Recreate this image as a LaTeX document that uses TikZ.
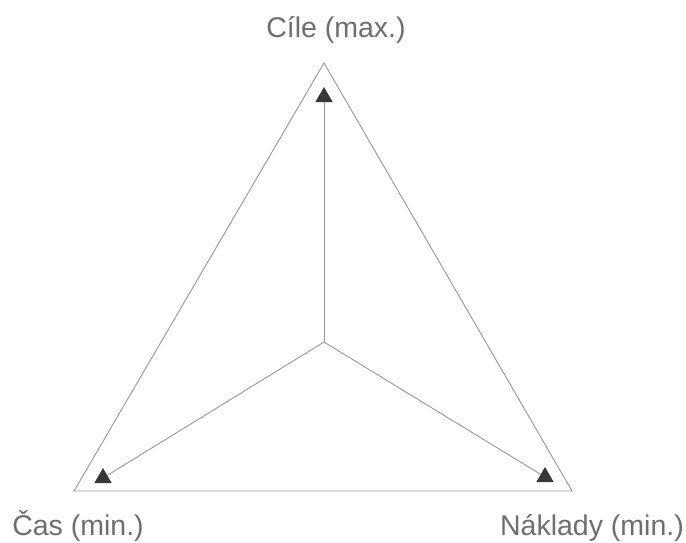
\documentclass[tikz,border=0pt]{standalone}
\usepackage{fontspec}
\setmainfont{Liberation Sans}
\usepackage{xcolor}
\definecolor{edgegray}{RGB}{150,150,150}
\definecolor{markgray}{RGB}{55,55,55}
\definecolor{textgray}{RGB}{110,110,110}
\usetikzlibrary{shapes.geometric, positioning}

\begin{document}
\begin{tikzpicture}[x=1pt, y=-1pt,
  edge/.style={draw=edgegray, line width=0.9pt, line join=miter},
  spoke/.style={draw=edgegray, line width=0.9pt},
  marker/.style={regular polygon, regular polygon sides=3, fill=markgray,
    minimum size=20pt, inner sep=0pt, outer sep=0pt},
  lbl/.style={anchor=base, inner sep=0pt, text=textgray,
    font=\fontsize{28.5}{30}\selectfont}]

  \useasboundingbox (0,0) rectangle (686,542);

  \coordinate (apex) at (324,63);
  \coordinate (left) at (74,491);
  \coordinate (right) at (572,491);
  \coordinate (mid) at (324,342);

  \draw[edge] (apex) -- (left) -- (right) -- cycle;

  \node[marker] (mtop) at (324,97) {};
  \node[marker] (mleft) at (103,478) {};
  \node[marker] (mright) at (545,477) {};

  \draw[spoke] (mid) -- (mtop);
  \draw[spoke] (mid) -- (mleft);
  \draw[spoke] (mid) -- (mright);

  \node[lbl] (goal) at (336,37) {Cíle (max.)};
  \node[lbl] (time) at (78,535) {Čas (min.)};
  \node[lbl] (cost) at (592,535) {Náklady (min.)};

\end{tikzpicture}
\end{document}
